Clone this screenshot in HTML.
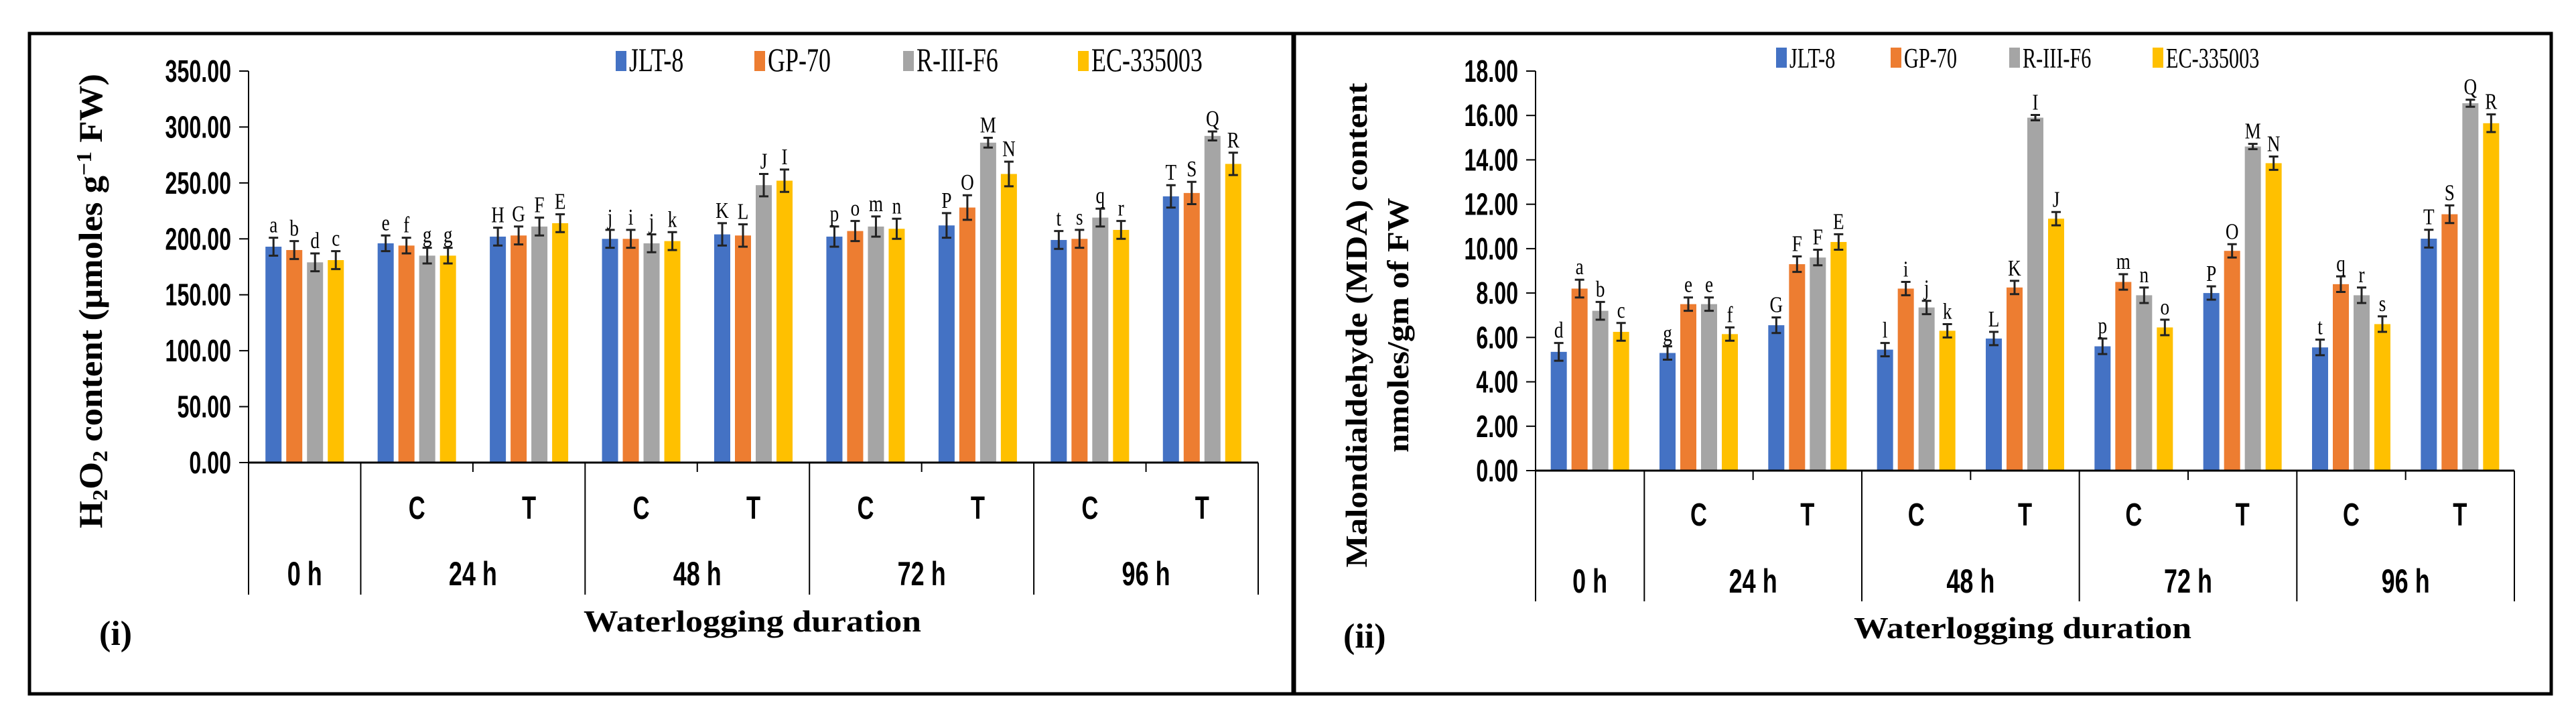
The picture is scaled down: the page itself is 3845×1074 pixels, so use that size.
<!DOCTYPE html>
<html><head><meta charset="utf-8"><style>
html,body{margin:0;padding:0;background:#fff;}
svg{display:block;}
</style></head><body>
<svg id="fig" width="3845" height="1074" viewBox="0 0 3845 1074" xmlns="http://www.w3.org/2000/svg"></svg>
<script>
const groupLabels = ["0h","24C","24T","48C","48T","72C","72T","96C","96T"];
const subLabels = ["","C","T","C","T","C","T","C","T"];
const hourLabels = ["0 h","24 h","48 h","72 h","96 h"];
const seriesNames = ["JLT-8","GP-70","R-III-F6","EC-335003"];
const colors = ["#4472C4","#ED7D31","#A5A5A5","#FFC000"];

const h2o2JLT = [193,196,202,200,204,202,212,199,238];
const h2o2GP = [190,194,203,200,203,207,228,200,241];
const h2o2R = [179,185,211,196,248,211,286,219,292];
const h2o2EC = [181,185,214,198,252,209,258,208,267];
const h2o2Err = [8,7,8,8,10,9,11,8,10];
const h2o2Letters = [["a","e","H","j","K","p","P","t","T"],["b","f","G","i","L","o","O","s","S"],["d","g","F","j","J","m","M","q","Q"],["c","g","E","k","I","n","N","r","R"]];
const h2o2Ticks = ["0.00","50.00","100.00","150.00","200.00","250.00","300.00","350.00"];

const mdaJLT = [5.35,5.3,6.55,5.45,5.95,5.6,8.0,5.55,10.45];
const mdaGP = [8.2,7.5,9.3,8.2,8.25,8.5,9.9,8.4,11.55];
const mdaR = [7.2,7.5,9.6,7.35,15.9,7.9,14.6,7.9,16.55];
const mdaEC = [6.25,6.15,10.3,6.3,11.35,6.45,13.85,6.6,15.65];
const mdaErr = [0.4,0.3,0.35,0.3,0.3,0.35,0.3,0.35,0.4];
const mdaLetters = [["d","g","G","l","L","p","P","t","T"],["a","e","F","i","K","m","O","q","S"],["b","e","F","j","I","n","M","r","Q"],["c","f","E","k","J","o","N","s","R"]];
const mdaTicks = ["0.00","2.00","4.00","6.00","8.00","10.00","12.00","14.00","16.00","18.00"];

const NS="http://www.w3.org/2000/svg";
const svg=document.getElementById('fig');
function mk(tag,attrs,parent,text){const e=document.createElementNS(NS,tag);for(const k in attrs)e.setAttribute(k,attrs[k]);if(text!==undefined)e.textContent=text;(parent||svg).appendChild(e);return e;}

function chart(cfg){
  const g=mk('g',{});
  
  
  const {x0,x1,y0,yTop,max}=cfg;
  const yS=v=>y0-(v/max)*(y0-yTop);
  const gw=(x1-x0)/groupLabels.length;
  const xC=i=>x0+gw*(i+0.5);
  cfg.ticks.forEach(t=>{
    const v=parseFloat(t),y=yS(v);
    const l=mk('line',{x1:x0-14,x2:x0,y1:y,y2:y,stroke:'#000','stroke-width':2},g);
    
    
    const tx=mk('text',{transform:`translate(${x0-26},${y+16}) scale(0.7,1)`,'text-anchor':'end','font-family':'Liberation Sans, sans-serif','font-weight':'bold','font-size':46,fill:'#000'},g,t);
    
    
  });
  const ax=mk('line',{x1:x0,x2:x0,y1:yTop,y2:y0,stroke:'#000','stroke-width':2},g);
  
  
  const stride=31,bw=24;
  cfg.series.forEach((arr,s)=>{
    arr.forEach((v,i)=>{
      const cx=xC(i)+(s-1.5)*stride;
      const y=yS(v);
      const r=mk('rect',{x:cx-bw/2,y:y,width:bw,height:y0-y,fill:colors[s]},g);
      
      
      const e=cfg.err[i]*(s===2&&v>cfg.max*0.75?0.4:1);
      const yt=yS(v+e),yb=yS(v-e);
      const eb=mk('path',{d:`M${cx},${yt}V${yb}M${cx-7},${yt}H${cx+7}M${cx-7},${yb}H${cx+7}`,stroke:'#222','stroke-width':3,fill:'none'},g);
      
      
      const lt=mk('text',{transform:`translate(${cx},${yt-8}) scale(0.8,1)`,'text-anchor':'middle','font-family':'Liberation Serif, serif','font-size':34,fill:'#000'},g,cfg.letters[s][i]);
      
      
    });
  });
  const xa=mk('line',{x1:x0,x2:x1,y1:y0,y2:y0,stroke:'#000','stroke-width':3},g);
  
  
  for(let i=0;i<=groupLabels.length;i++){
    const x=x0+gw*i;
    const big=(i===0||i%2===1);
    const l=mk('line',{x1:x,x2:x,y1:y0,y2:big?cfg.catBottom:y0+14,stroke:'#000','stroke-width':2},g);
    
    
  }
  subLabels.forEach((t,i)=>{
    if(!t)return;
    const tx=mk('text',{transform:`translate(${xC(i)},${cfg.subY}) scale(0.72,1)`,'text-anchor':'middle','font-family':'Liberation Sans, sans-serif','font-weight':'bold','font-size':48,fill:'#000'},g,t);
    
    
  });
  hourLabels.forEach((t,k)=>{
    const cx=k===0?xC(0):(xC(2*k-1)+xC(2*k))/2;
    const tx=mk('text',{transform:`translate(${cx},${cfg.hourY}) scale(0.72,1)`,'text-anchor':'middle','font-family':'Liberation Sans, sans-serif','font-weight':'bold','font-size':50,fill:'#000'},g,t);
    
    
  });
  const xt=mk('text',{x:cfg.xTitleX,y:cfg.xTitleY,'text-anchor':'middle','font-family':'Liberation Serif, serif','font-weight':'bold','font-size':46,textLength:504,lengthAdjust:'spacingAndGlyphs',fill:'#000'},g,'Waterlogging duration');
  
  
  cfg.legendX.forEach((lx,s)=>{
    const sq=mk('rect',{x:lx-8,y:cfg.legendY-16,width:16,height:30,fill:colors[s]},g);
    
    
    const tx=mk('text',{transform:`translate(${lx+12},${cfg.legendY+14}) scale(0.72,1)`,'font-family':'Liberation Serif, serif','font-size':cfg.legendFont,fill:'#000'},g,seriesNames[s]);
    
    
  });
  const pl=mk('text',{x:cfg.panelX,y:cfg.panelY,'font-family':'Liberation Serif, serif','font-weight':'bold','font-size':52,fill:'#000'},g,cfg.panel);
  
  
  return g;
}

const b1=mk('rect',{x:44,y:50,width:1888,height:985,fill:'none',stroke:'#000','stroke-width':5});


const b2=mk('rect',{x:1930,y:50,width:1878,height:985,fill:'none',stroke:'#000','stroke-width':5});



chart({name:'h2o2-chart',x0:371,x1:1878,y0:690,yTop:106,max:350,ticks:h2o2Ticks,
  series:[h2o2JLT,h2o2GP,h2o2R,h2o2EC],err:h2o2Err,letters:h2o2Letters,
  catBottom:887,subY:774,hourY:873,xTitleX:1123,xTitleY:942,
  legendX:[927,1134,1356,1617],legendY:92,legendFont:50,panel:'(i)',panelX:148,panelY:962});

chart({name:'mda-chart',x0:2292,x1:3753,y0:702,yTop:106,max:18,ticks:mdaTicks,
  series:[mdaJLT,mdaGP,mdaR,mdaEC],err:mdaErr,letters:mdaLetters,
  catBottom:897,subY:784,hourY:884,xTitleX:3019,xTitleY:952,
  legendX:[2659,2830,3007,3221],legendY:87,legendFont:42,panel:'(ii)',panelX:2005,panelY:966});

const t1=mk('text',{transform:'translate(152,449) rotate(-90)','text-anchor':'middle','font-family':'Liberation Serif, serif','font-weight':'bold','font-size':50,textLength:678,lengthAdjust:'spacingAndGlyphs',fill:'#000'});


t1.innerHTML='H<tspan font-size="32" dy="8">2</tspan><tspan dy="-8">O</tspan><tspan font-size="32" dy="8">2</tspan><tspan dy="-8"> content (µmoles g</tspan><tspan font-size="32" dy="-16">−1</tspan><tspan dy="16"> FW)</tspan>';
const t2=mk('text',{transform:'translate(2040,485) rotate(-90)','text-anchor':'middle','font-family':'Liberation Serif, serif','font-weight':'bold','font-size':46,textLength:723,lengthAdjust:'spacingAndGlyphs',fill:'#000'},null,'Malondialdehyde (MDA) content');


const t3=mk('text',{transform:'translate(2102,485) rotate(-90)','text-anchor':'middle','font-family':'Liberation Serif, serif','font-weight':'bold','font-size':46,textLength:380,lengthAdjust:'spacingAndGlyphs',fill:'#000'},null,'nmoles/gm of FW');


</script>
</body></html>
